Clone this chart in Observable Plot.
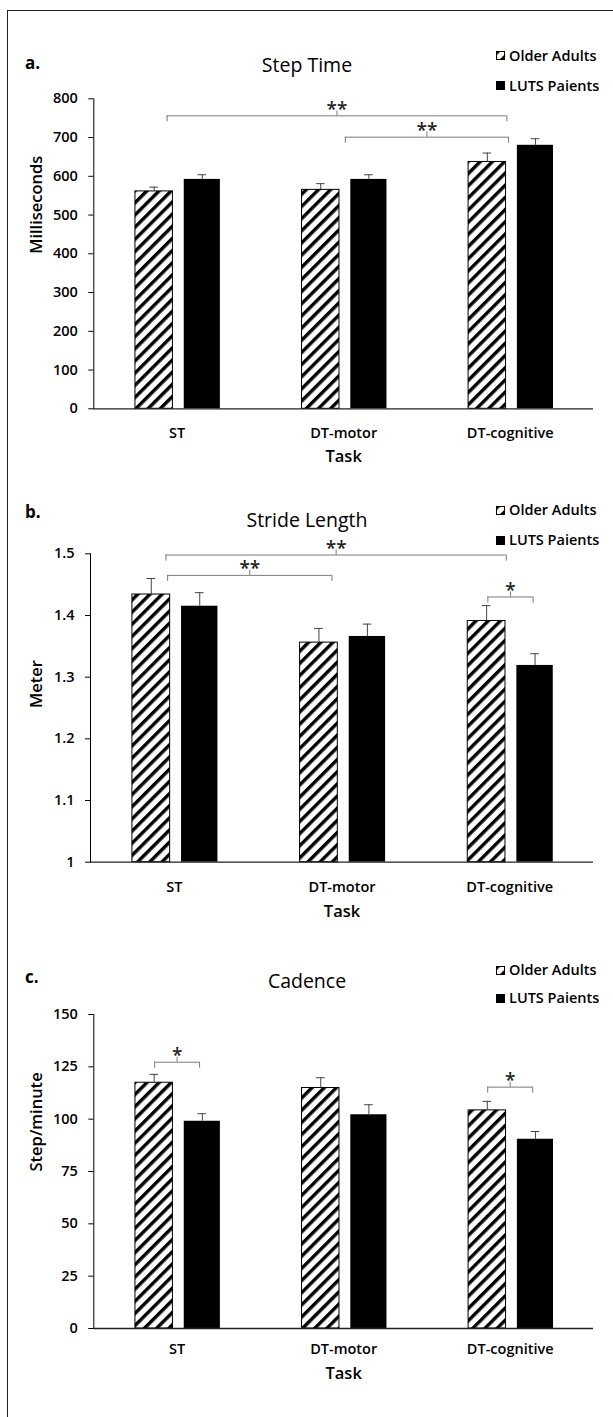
<!DOCTYPE html>
<html>
<head>
<meta charset="utf-8">
<script src="https://cdn.jsdelivr.net/npm/d3@7"></script>
<script src="https://cdn.jsdelivr.net/npm/@observablehq/plot@0.6"></script>
<style>
  body { margin: 0; background: #fff; font-family: "Open Sans", sans-serif; color: #000; }
  #page { position: relative; width: 613px; height: 1417px; overflow: hidden; background: #fff; }
  #frame { position: absolute; left: 7px; top: 10px; width: 700px; height: 1500px;
           border-top: 1.5px solid #222; border-left: 1.5px solid #222; }
  .panel { position: absolute; left: 0; width: 613px; }
  .panel svg text { font-weight: 600; }
  .tag { position: absolute; font-size: 17px; font-weight: 700; line-height: 20px; height: 20px; }
  .title { position: absolute; font-size: 19.5px; line-height: 24px; height: 24px; transform: translateX(-50%); white-space: nowrap; }
  .leg { position: absolute; left: 496px; font-size: 14.5px; font-weight: 600; line-height: 20px; height: 20px;
         display: flex; align-items: center; gap: 4px; white-space: nowrap; }
  .leg svg { display: block; }
</style>
</head>
<body>
<svg width="0" height="0" style="position:absolute">
  <defs>
    <pattern id="hatch" patternUnits="userSpaceOnUse" width="8.6" height="8.6" patternTransform="rotate(45)">
      <rect width="8.6" height="8.6" fill="#fff"></rect>
      <rect x="0" y="0" width="3.4" height="8.6" fill="#000"></rect>
    </pattern>
  </defs>
</svg>
<div id="page"><div id="frame"></div></div>
<script>
// ---------- data ----------
const tasks = ["ST", "DT-motor", "DT-cognitive"];
const groups = ["Older Adults", "LUTS Paients"];

const stepTimeOA = [561, 565, 637];
const stepTimeOAErr = [11, 16, 23];
const stepTimeLUTS = [592, 592, 680];
const stepTimeLUTSErr = [12, 12, 17];
const stepTimeTicks = [0, 100, 200, 300, 400, 500, 600, 700, 800];

const strideOA = [1.434, 1.356, 1.391];
const strideOAErr = [0.026, 0.023, 0.025];
const strideLUTS = [1.415, 1.366, 1.319];
const strideLUTSErr = [0.022, 0.020, 0.019];
const strideTicks = [1, 1.1, 1.2, 1.3, 1.4, 1.5];

const cadenceOA = [117.4, 114.9, 104.2];
const cadenceOAErr = [4.0, 4.9, 4.3];
const cadenceLUTS = [99.0, 102.1, 90.4];
const cadenceLUTSErr = [3.6, 4.8, 3.7];
const cadenceTicks = [0, 25, 50, 75, 100, 125, 150];

// significance brackets (from/to on the task axis, level in data units)
const stepTimeSig = [
  {from: 0.44, to: 2.48, level: 756, label: "**"},
  {from: 1.51, to: 2.49, level: 701, label: "**"}
];
const strideSig = [
  {from: 0.45, to: 2.48, level: 1.498, label: "**"},
  {from: 0.46, to: 1.44, level: 1.465, label: "**"},
  {from: 2.37, to: 2.64, level: 1.43, label: "*"}
];
const cadenceSig = [
  {from: 0.365, to: 0.635, level: 127.2, label: "*"},
  {from: 2.365, to: 2.635, level: 115.3, label: "*"}
];

// ---------- drawing ----------
const page = document.getElementById("page");

function addHTML(cls, html, style) {
  const d = document.createElement("div");
  d.className = cls;
  d.innerHTML = html;
  Object.assign(d.style, style);
  page.appendChild(d);
  return d;
}

const swatchOA = '<svg width="9" height="9"><rect x="0.5" y="0.5" width="8" height="8" fill="url(#hatch)" stroke="#000" stroke-width="1"></rect></svg>';
const swatchLUTS = '<svg width="9" height="9"><rect x="0" y="0" width="9" height="9" fill="#000"></rect></svg>';

function panel(cfg) {
  const {svgTop, height, marginTop, marginBottom, marginLeft, domain, ticks, tickFormat,
         oa, oaErr, luts, lutsErr, sig, yLabel, base, tickPad, taskDy,
         tag, title, tagY, titleY, legY1, legY2} = cfg;

  const rows = tasks.flatMap((t, i) => [
    {task: t, i, group: groups[0], v: oa[i], e: oaErr[i]},
    {task: t, i, group: groups[1], v: luts[i], e: lutsErr[i]}
  ]);
  const left = d => d.i + 0.5 + (d.group === groups[0] ? -0.25 : 0.043);
  const right = d => d.i + 0.5 + (d.group === groups[0] ? -0.025 : 0.26);
  const mid = d => (left(d) + right(d)) / 2;
  const oaRows = rows.filter(d => d.group === groups[0]);
  const lutsRows = rows.filter(d => d.group === groups[1]);
  const midSig = d => (d.from + d.to) / 2;

  const chart = Plot.plot({
    width: 613, height, marginTop, marginBottom, marginLeft, marginRight: 20,
    style: {fontFamily: "'Open Sans', sans-serif", fontSize: "14.5px", color: "#000", background: "transparent", overflow: "visible"},
    x: {type: "linear", domain: [0, 3], ticks: [0.5, 1.5, 2.5], tickFormat: d => tasks[Math.floor(d)],
        tickSize: 0, tickPadding: tickPad, label: null},
    y: {domain, ticks, tickFormat, tickSize: 5, tickPadding: 11, label: null, line: true},
    marks: [
      Plot.rectY(oaRows, {x1: left, x2: right, y1: base, y2: "v", fill: "url(#hatch)", stroke: "#000", strokeWidth: 1}),
      Plot.rectY(lutsRows, {x1: left, x2: right, y1: base, y2: "v", fill: "#000"}),
      Plot.ruleX(rows, {x: mid, y1: "v", y2: d => d.v + d.e, stroke: "#444", strokeWidth: 1}),
      Plot.ruleY(rows, {x1: d => mid(d) - 0.026, x2: d => mid(d) + 0.026, y: d => d.v + d.e, stroke: "#444", strokeWidth: 1}),
      Plot.ruleY([base], {stroke: "#222", strokeWidth: 1.3}),
      // brackets
      Plot.ruleY(sig, {x1: "from", x2: "to", y: "level", stroke: "#7a7a7a", strokeWidth: 1}),
      Plot.ruleX(sig, {x: "from", y1: "level", y2: "level", insetBottom: -6, stroke: "#7a7a7a", strokeWidth: 1}),
      Plot.ruleX(sig, {x: "to", y1: "level", y2: "level", insetBottom: -6, stroke: "#7a7a7a", strokeWidth: 1}),
      Plot.ruleX(sig, {x: midSig, y1: "level", y2: "level", insetTop: -5, stroke: "#7a7a7a", strokeWidth: 1}),
      Plot.text(sig, {x: midSig, y: "level", text: "label", dy: -6, fontSize: 19, fontWeight: "bold", fill: "#222"}),
      // axis titles
      Plot.text([yLabel], {frameAnchor: "left", rotate: -90, dx: -(marginLeft - 36), fontSize: 16.5, fill: "#000"}),
      Plot.text(["Task"], {frameAnchor: "bottom", dy: taskDy, fontSize: 16.5, fill: "#000"})
    ]
  });
  const wrap = document.createElement("div");
  wrap.className = "panel";
  wrap.style.top = svgTop + "px";
  wrap.appendChild(chart);
  page.appendChild(wrap);

  addHTML("tag", tag, {left: "25px", top: (tagY - 10) + "px"});
  addHTML("title", title, {left: "307px", top: (titleY - 12) + "px"});
  addHTML("leg", swatchOA + "<span>" + groups[0] + "</span>", {top: (legY1 - 10) + "px"});
  addHTML("leg", swatchLUTS + "<span>" + groups[1] + "</span>", {top: (legY2 - 10) + "px"});
}

panel({
  svgTop: 80, height: 400, marginTop: 18.3, marginBottom: 71.7, marginLeft: 93.3,
  domain: [0, 800], ticks: stepTimeTicks, tickFormat: d => String(d),
  oa: stepTimeOA, oaErr: stepTimeOAErr, luts: stepTimeLUTS, lutsErr: stepTimeLUTSErr,
  sig: stepTimeSig, yLabel: "Milliseconds", base: 0, tickPad: 19, taskDy: 53,
  tag: "a.", title: "Step Time", tagY: 63, titleY: 65, legY1: 55.5, legY2: 85.5
});

panel({
  svgTop: 535, height: 400, marginTop: 18.3, marginBottom: 73.3, marginLeft: 90,
  domain: [1, 1.5], ticks: strideTicks, tickFormat: d => (d === 1 ? "1" : d.toFixed(1)),
  oa: strideOA, oaErr: strideOAErr, luts: strideLUTS, lutsErr: strideLUTSErr,
  sig: strideSig, yLabel: "Meter", base: 1, tickPad: 20, taskDy: 55,
  tag: "b.", title: "Stride Length", tagY: 512, titleY: 520, legY1: 510, legY2: 540
});

panel({
  svgTop: 996, height: 400, marginTop: 18, marginBottom: 68, marginLeft: 93.3,
  domain: [0, 150], ticks: cadenceTicks, tickFormat: d => String(d),
  oa: cadenceOA, oaErr: cadenceOAErr, luts: cadenceLUTS, lutsErr: cadenceLUTSErr,
  sig: cadenceSig, yLabel: "Step/minute", base: 0, tickPad: 15, taskDy: 50,
  tag: "c.", title: "Cadence", tagY: 977, titleY: 981, legY1: 970, legY2: 998
});
</script>
</body>
</html>
